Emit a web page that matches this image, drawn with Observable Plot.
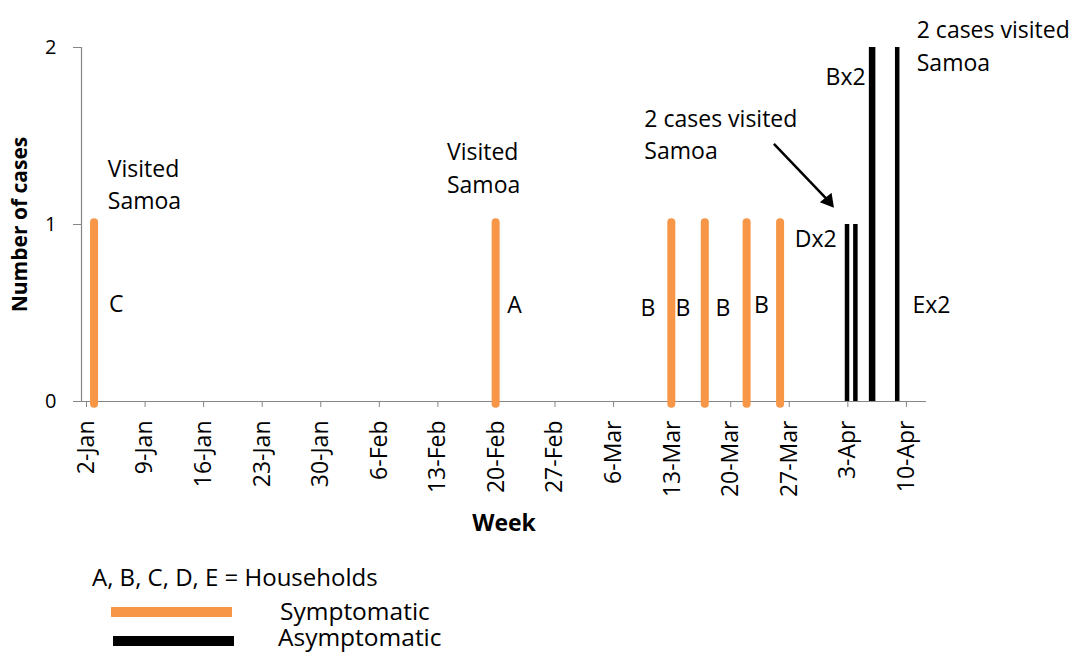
<!DOCTYPE html>
<html>
<head>
<meta charset="utf-8">
<script src="https://cdn.jsdelivr.net/npm/d3@7"></script>
<script src="https://cdn.jsdelivr.net/npm/@observablehq/plot@0.6"></script>
<style>
  body { margin: 0; background: #fff; font-family: "Open Sans", sans-serif; }
  #chart { width: 1075px; height: 655px; overflow: hidden; }
  #chart svg { display: block; }
</style>
</head>
<body>
<div id="chart"></div>
<script>
// ---- data ----
const year = 2017;
const weekTicks = ["2-Jan","9-Jan","16-Jan","23-Jan","30-Jan","6-Feb","13-Feb","20-Feb","27-Feb","6-Mar","13-Mar","20-Mar","27-Mar","3-Apr","10-Apr"];
const axisStart = "2017-01-02";
const axisEnd = "2017-04-13";
const yTicks = [0, 1, 2];

const caseDates = ["2017-01-03","2017-02-20","2017-03-13","2017-03-17","2017-03-22","2017-03-26","2017-04-03","2017-04-04","2017-04-06","2017-04-09"];
const caseCounts = [1, 1, 1, 1, 1, 1, 1, 1, 2, 2];
const caseStatus = ["Symptomatic","Symptomatic","Symptomatic","Symptomatic","Symptomatic","Symptomatic","Asymptomatic","Asymptomatic","Asymptomatic","Asymptomatic"];
const caseHouseholds = ["C","A","B","B","B","B","D","D","B","E"];

// notes (top-left anchored)
const noteTexts = ["Visited\nSamoa","Visited\nSamoa","2 cases visited\nSamoa","2 cases visited\nSamoa"];
const noteDates = ["2017-01-05T03:30","2017-02-14T16:20","2017-03-10T06:40","2017-04-11T20:00"];
const noteValues = [1.401, 1.493, 1.682, 2.181];

// household labels right of their bar
const rightLabels = ["C","A","Ex2"];
const rightLabelDates = ["2017-01-05T06:40","2017-02-21T21:40","2017-04-11T07:40"];
const rightLabelValues = [0.548, 0.542, 0.542];
// household labels left of their bar
const leftLabels = ["B","B","B","B","Dx2","Bx2"];
const leftLabelDates = ["2017-03-11T14:20","2017-03-15T18:40","2017-03-20T13:40","2017-03-25T03:50","2017-04-02T06:15","2017-04-05T17:30"];
const leftLabelValues = [0.525, 0.525, 0.525, 0.542, 0.915, 1.832];

// arrow from note to Dx2 bars
const arrowStart = ["2017-03-25T18:15", 1.456];
const arrowHead = ["2017-04-01T06:45", 1.133];

const legendTitle = "A, B, C, D, E = Households";
const legendItems = ["Symptomatic", "Asymptomatic"];

// ---- build ----
const utc = s => new Date(s + (s.length > 10 ? ":00Z" : "T00:00:00Z"));
const parseTick = d3.utcParse("%d-%b-%Y");
const tickDates = weekTicks.map(s => parseTick(s + "-" + year));

const cases = caseDates.map((d, i) => ({
  date: new Date(d + "T12:00:00Z"),
  count: caseCounts[i],
  status: caseStatus[i],
  household: caseHouseholds[i]
}));
const notes = noteTexts.map((t, i) => ({text: t, date: utc(noteDates[i]), value: noteValues[i]}));
const rLabels = rightLabels.map((t, i) => ({text: t, date: utc(rightLabelDates[i]), value: rightLabelValues[i]}));
const lLabels = leftLabels.map((t, i) => ({text: t, date: utc(leftLabelDates[i]), value: leftLabelValues[i]}));
const arrow = [{x1: utc(arrowStart[0]), y1: arrowStart[1], x2: utc(arrowHead[0]), y2: arrowHead[1]}];

const ORANGE = "#F79646";
const AXIS = "#868686";

const plot = Plot.plot({
  width: 1075,
  height: 560,
  marginLeft: 81,
  marginRight: 149,
  marginTop: 47,
  marginBottom: 159,
  style: {fontFamily: "'Open Sans', sans-serif", background: "white", overflow: "visible"},
  x: {type: "utc", domain: [utc(axisStart), utc(axisEnd)]},
  y: {domain: [0, 2]},
  marks: [
    Plot.axisX({ticks: tickDates, tickFormat: (d, i) => weekTicks[i], tickRotate: -90, tickSize: 6, tickPadding: 13,
      fontSize: 23, stroke: AXIS, fill: "black", dx: 5, label: null}),
    Plot.axisY({ticks: yTicks, tickFormat: d => d, tickSize: 8, tickPadding: 17, fontSize: 20,
      stroke: AXIS, fill: "black", label: null}),
    Plot.ruleY([0], {stroke: AXIS, strokeWidth: 1.2}),
    Plot.ruleX([utc(axisStart)], {stroke: AXIS, strokeWidth: 1.2}),
    Plot.ruleX(cases.filter(d => d.status === "Symptomatic"), {
      x: "date", y1: 0, y2: "count", stroke: ORANGE, strokeWidth: 8, strokeLinecap: "round", insetTop: 2.7, insetBottom: 1.8
    }),
    Plot.ruleX(cases.filter(d => d.status === "Asymptomatic"), {
      x: "date", y1: 0, y2: "count", stroke: "black",
      strokeWidth: d => (d.household === "B" ? 6.5 : 4.5)
    }),
    Plot.text(notes, {x: "date", y: "value", text: "text", textAnchor: "start", lineAnchor: "top",
      fontSize: 23, lineHeight: 1.41, fill: "black"}),
    Plot.text(rLabels, {x: "date", y: "value", text: "text", textAnchor: "start", lineAnchor: "middle",
      fontSize: 23, fill: "black"}),
    Plot.text(lLabels, {x: "date", y: "value", text: "text", textAnchor: "end", lineAnchor: "middle",
      fontSize: 23, fill: "black"}),
    Plot.link(arrow, {x1: "x1", y1: "y1", x2: "x2", y2: "y2", stroke: "black", strokeWidth: 2.5}),
    Plot.dot(arrow, {x: "x2", y: "y2", symbol: "triangle", r: 5.6, fill: "black", stroke: "none", rotate: 141}),
    Plot.text(["Number of cases"], {frameAnchor: "left", dx: -61.5, rotate: -90, fontWeight: "bold",
      fontSize: 21, textAnchor: "middle", lineAnchor: "middle", fill: "black"}),
    Plot.text(["Week"], {frameAnchor: "bottom", dy: 122, fontWeight: "bold", fontSize: 23,
      textAnchor: "middle", lineAnchor: "middle", fill: "black"})
  ]
});

const chart = document.getElementById("chart");
chart.appendChild(plot);

// legend below the plot
const legend = d3.create("svg").attr("width", 1075).attr("height", 95)
  .style("font-family", "'Open Sans', sans-serif").style("display", "block");
legend.append("text").attr("x", 92).attr("y", 26).attr("font-size", 24).attr("fill", "black").text(legendTitle);
const legendColors = [ORANGE, "black"];
const legendRows = [{barX: 111, barY: 47, textX: 280, textY: 60}, {barX: 113, barY: 76, textX: 278, textY: 86}];
legendItems.forEach((name, i) => {
  const r = legendRows[i];
  legend.append("rect").attr("x", r.barX).attr("y", r.barY).attr("width", 121).attr("height", 10).attr("fill", legendColors[i]);
  legend.append("text").attr("x", r.textX).attr("y", r.textY).attr("font-size", 24.5).attr("fill", "black").text(name);
});
chart.appendChild(legend.node());
</script>
</body>
</html>
